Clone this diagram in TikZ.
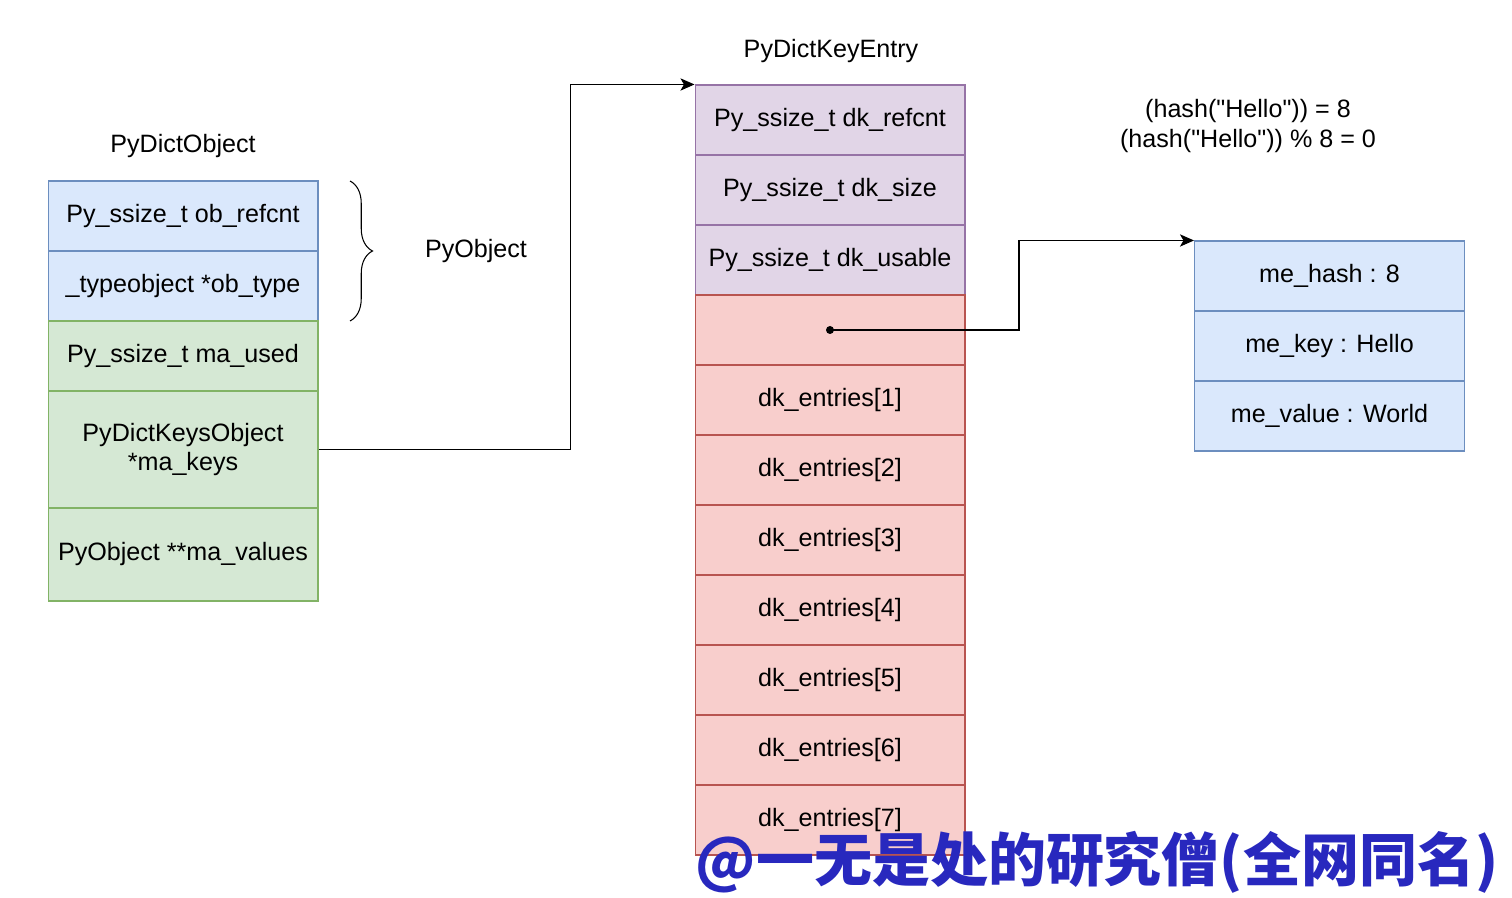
\documentclass[tikz,border=0pt]{standalone}
\usepackage{fontspec}
\setmainfont{Liberation Sans}
\newfontfamily\cjk{Noto Sans CJK SC}
\usetikzlibrary{arrows.meta,decorations.pathreplacing}

\begin{document}
\begin{tikzpicture}[x=0.02cm,y=-0.02cm,>=Stealth,line join=miter,
  font=\fontsize{14.3}{17}\selectfont,
  cell/.style={draw,line width=0.6pt,minimum width=5.4cm,minimum height=1.4cm,
    inner sep=0pt,align=center},
  bluecell/.style={cell,fill=bluef,draw=blued},
  greencell/.style={cell,fill=greenf,draw=greend},
  purplecell/.style={cell,fill=purplef,draw=purpled},
  redcell/.style={cell,fill=redf,draw=redd},
  ptr/.style={-{Stealth[length=8pt,width=7pt,inset=2pt]},line width=0.6pt},
  lab/.style={inner sep=0pt}]

  \definecolor{bluef}{HTML}{DAE8FC}\definecolor{blued}{HTML}{6C8EBF}
  \definecolor{greenf}{HTML}{D5E8D4}\definecolor{greend}{HTML}{82B366}
  \definecolor{purplef}{HTML}{E1D5E7}\definecolor{purpled}{HTML}{9673A6}
  \definecolor{redf}{HTML}{F8CECC}\definecolor{redd}{HTML}{B85450}
  \definecolor{wmark}{RGB}{40,40,190}

  \useasboundingbox (0,0) rectangle (1512,898);

  % ---- PyDictObject (left) ----
  \node[lab] (dicttitle) at (183,146) {PyDictObject};
  \node[bluecell] (refcnt) at (183,216) {Py\_ssize\_t ob\_refcnt};
  \node[bluecell] (type) at (183,286) {\_typeobject *ob\_type};
  \node[greencell] (used) at (183,356) {Py\_ssize\_t ma\_used};
  \node[greencell,minimum height=2.34cm] (keys) at (183,449.5) {PyDictKeysObject\\*ma\_keys};
  \node[greencell,minimum height=1.86cm] (values) at (183,554.5) {PyObject **ma\_values};

  % brace for the PyObject head
  \coordinate (bracetop) at (350,181);
  \coordinate (bracebot) at (350,321);
  \draw[line width=0.6pt,decorate,decoration={brace,amplitude=0.45cm}] (bracetop) -- (bracebot);
  \node[lab] (pyobj) at (476,251) {PyObject};

  % ---- PyDictKeyEntry (middle) ----
  \node[lab] (keytitle) at (831,51) {PyDictKeyEntry};
  \node[purplecell] (krefcnt) at (830,120) {Py\_ssize\_t dk\_refcnt};
  \node[purplecell] (ksize) at (830,190) {Py\_ssize\_t dk\_size};
  \node[purplecell] (kusable) at (830,260) {Py\_ssize\_t dk\_usable};
  \node[redcell] (e0) at (830,330) {};
  \foreach \i in {1,...,7} {
    \node[redcell] (e\i) at (830,{330+70*\i}) {dk\_entries[\i]};
  }
  \fill (e0.center) circle (0.08cm);

  % ---- entry (right) ----
  \node[lab,align=center] (hashnote) at (1248,126)
    {(hash(\textquotedbl Hello\textquotedbl)) = 8\\(hash(\textquotedbl Hello\textquotedbl)) \% 8 = 0};
  \node[bluecell] (mehash) at (1329.5,276) {me\_hash : 8};
  \node[bluecell] (mekey) at (1329.5,346) {me\_key : Hello};
  \node[bluecell] (mevalue) at (1329.5,416) {me\_value : World};

  % ---- pointers ----
  \draw[ptr] (keys.east) -- ++(252,0) |- (krefcnt.north west);
  \draw[ptr] (e0.center) -- ++(189,0) |- (mehash.north west);

  % watermark
  \node[lab,text=wmark,font=\cjk\bfseries\fontsize{33}{36}\selectfont] (wm) at (1097,862)
    {@一无是处的研究僧(全网同名)};
\end{tikzpicture}
\end{document}
